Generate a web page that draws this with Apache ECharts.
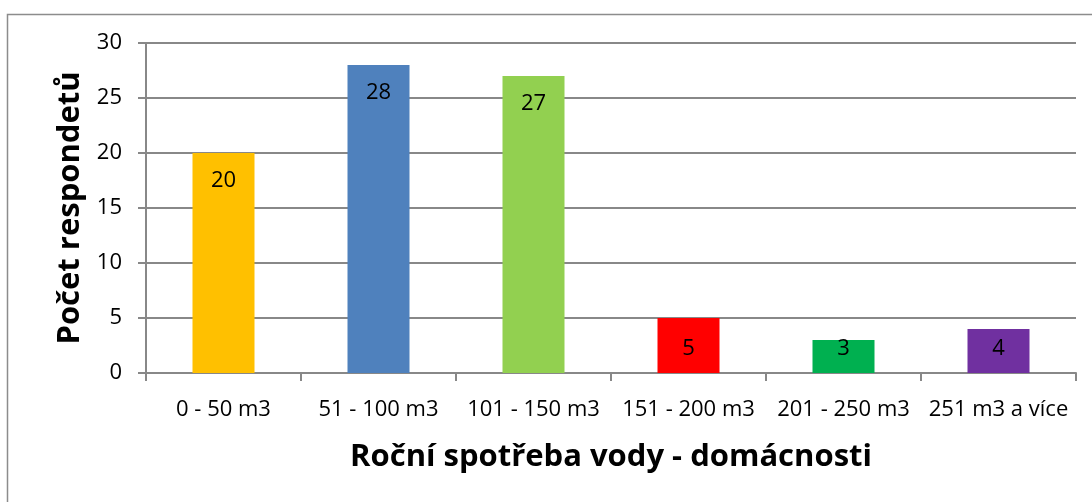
<!DOCTYPE html>
<html>
<head>
<meta charset="utf-8">
<script src="https://cdn.jsdelivr.net/npm/echarts@6/dist/echarts.min.js"></script>
<style>
  html, body { margin: 0; padding: 0; background: #fff; }
  #chart { width: 1092px; height: 502px; }
</style>
</head>
<body>
<div id="chart"></div>
<script>
// data
const categories = ['0 - 50 m3', '51 - 100 m3', '101 - 150 m3', '151 - 200 m3', '201 - 250 m3', '251 m3 a více']
const values = [20, 28, 27, 5, 3, 4]
const barColors = ['#FFC000', '#4F81BD', '#92D050', '#FF0000', '#00B050', '#7030A0']

const font = '"Open Sans", "Liberation Sans", sans-serif'
const chart = echarts.init(document.getElementById('chart'))

// short bars: Excel keeps the label above the baseline, so pin it to the bottom
function barLabel (v) {
  if (v < 6) return { position: 'insideBottom', distance: 13 }
  return { position: 'insideTop', distance: 17 }
}

chart.setOption({
  animation: false,
  grid: { left: 146, right: 16, top: 43, bottom: 129 },
  graphic: [
    {
      type: 'rect',
      shape: { x: 7.5, y: 14.5, width: 1100, height: 600 },
      style: { fill: 'none', stroke: '#8c8c8c', lineWidth: 1.5 },
      z: -1
    }
  ],
  xAxis: {
    type: 'category',
    data: categories,
    name: 'Roční spotřeba vody - domácnosti',
    nameLocation: 'middle',
    nameGap: 69,
    nameTextStyle: { fontFamily: font, fontWeight: 'bold', fontSize: 31, color: '#000' },
    axisLine: { lineStyle: { color: '#888', width: 2 } },
    axisTick: { show: true, length: 8, lineStyle: { color: '#888', width: 2 } },
    axisLabel: { fontFamily: font, fontSize: 22, color: '#000', margin: 26, interval: 0 }
  },
  yAxis: {
    type: 'value',
    min: 0,
    max: 30,
    interval: 5,
    name: 'Počet respondetů',
    nameLocation: 'middle',
    nameGap: 60,
    nameTextStyle: { fontFamily: font, fontWeight: 'bold', fontSize: 31, color: '#000' },
    axisLine: { show: true, lineStyle: { color: '#888', width: 2 } },
    axisTick: { show: true, length: 8, lineStyle: { color: '#888', width: 2 } },
    axisLabel: { fontFamily: font, fontSize: 22, color: '#000', margin: 24 },
    splitLine: { lineStyle: { color: '#888', width: 2 } }
  },
  series: [
    {
      type: 'bar',
      barWidth: '40%',
      data: values.map((v, i) => ({
        value: v,
        itemStyle: { color: barColors[i] },
        label: barLabel(v)
      })),
      label: {
        show: true,
        fontFamily: font,
        fontSize: 22,
        color: '#000'
      }
    }
  ]
})
</script>
</body>
</html>
